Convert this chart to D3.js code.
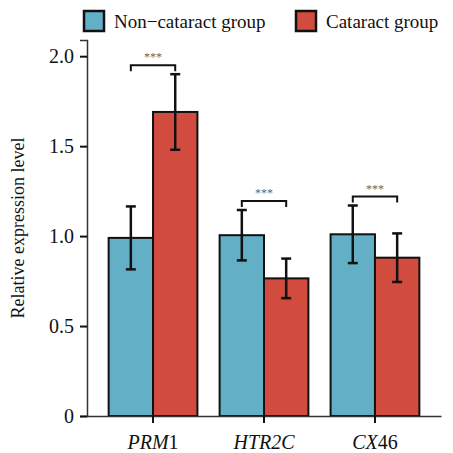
<!DOCTYPE html>
<html>
<head>
<meta charset="utf-8">
<script src="https://cdn.jsdelivr.net/npm/d3@7"></script>
<style>
  body { margin: 0; background: #fff; }
  #fig text, #fig tspan { font-family: "Liberation Serif", serif !important; }
</style>
</head>
<body>
<svg id="fig" width="453" height="453"></svg>
<script>
// Data
const genes = ['PRM1', 'HTR2C', 'CX46'];
const groups = ['Non\u2212cataract group', 'Cataract group'];
const nonCataract = [0.99, 1.005, 1.01];
const nonCataractErr = [0.175, 0.14, 0.16];
const cataract = [1.69, 0.765, 0.88];
const cataractErr = [0.21, 0.11, 0.135];
const significance = ['***', '***', '***'];
const yTicks = [0, 0.5, 1.0, 1.5, 2.0];

// gene labels: italic part + upright part
const geneItalic = ['PRM', 'HTR2C', 'CX'];
const geneUpright = ['1', '', '46'];

const colors = ['#63AFC6', '#D14B3E'];
const FONT = 'Liberation Serif';

const width = 453, height = 453;
const margin = { top: 40, right: 12, bottom: 37, left: 87 };

const svg = d3.select('#fig');

const x = d3.scaleBand()
    .domain(genes)
    .range([margin.left, width - margin.right])
    .paddingInner(0.2)
    .paddingOuter(0.195);

const xSub = d3.scaleBand()
    .domain([0, 1])
    .range([0, x.bandwidth()]);

const y = d3.scaleLinear()
    .domain([0, 2.09])
    .range([height - margin.bottom, margin.top]);

// Build rows for bars
const rows = [];
genes.forEach((g, i) => {
    rows.push({ gene: g, grp: 0, value: nonCataract[i], err: nonCataractErr[i] });
    rows.push({ gene: g, grp: 1, value: cataract[i], err: cataractErr[i] });
});

// Bars
svg.append('g')
    .selectAll('rect')
    .data(rows)
    .enter()
    .append('rect')
    .attr('x', d => x(d.gene) + xSub(d.grp))
    .attr('y', d => y(d.value))
    .attr('width', xSub.bandwidth())
    .attr('height', d => y(0) - y(d.value))
    .attr('fill', d => colors[d.grp])
    .attr('stroke', '#111')
    .attr('stroke-width', 2);

// Error bars
const capW = 5;
const err = svg.append('g')
    .attr('stroke', '#111')
    .attr('stroke-width', 2.5);

rows.forEach(d => {
    const cx = x(d.gene) + xSub(d.grp) + xSub.bandwidth() / 2;
    const top = y(d.value + d.err), bot = y(d.value - d.err);
    err.append('line').attr('x1', cx).attr('x2', cx).attr('y1', top).attr('y2', bot);
    err.append('line').attr('x1', cx - capW).attr('x2', cx + capW).attr('y1', top).attr('y2', top);
    err.append('line').attr('x1', cx - capW).attr('x2', cx + capW).attr('y1', bot).attr('y2', bot);
});

// Significance brackets
const sig = svg.append('g');
genes.forEach((g, i) => {
    const x1 = x(g) + xSub(0) + xSub.bandwidth() / 2;
    const x2 = x(g) + xSub(1) + xSub.bandwidth() / 2;
    const maxTop = Math.max(nonCataract[i] + nonCataractErr[i], cataract[i] + cataractErr[i]);
    const by = y(maxTop) - 9;
    sig.append('path')
        .attr('d', `M${x1},${by + 6}V${by}H${x2}V${by + 6}`)
        .attr('fill', 'none')
        .attr('stroke', '#111')
        .attr('stroke-width', 2);
    sig.append('text')
        .attr('x', (x1 + x2) / 2)
        .attr('y', by - 4)
        .attr('text-anchor', 'middle')
        .attr('font-family', FONT)
        .attr('font-size', 12)
        .attr('fill', '#666')
        .text(significance[i]);
});

// Y axis
const yAxis = svg.append('g')
    .attr('transform', `translate(${margin.left},0)`)
    .call(d3.axisLeft(y)
        .tickValues(yTicks)
        .tickSize(7)
        .tickPadding(6)
        .tickFormat(d => d === 0 ? '0' : d3.format('.1f')(d)));
yAxis.attr('font-family', FONT);
yAxis.select('.domain').attr('stroke', '#333').attr('stroke-width', 1.5);
yAxis.selectAll('.tick line').attr('stroke', '#111').attr('stroke-width', 2);
yAxis.selectAll('.tick text')
    .attr('font-family', FONT)
    .attr('font-size', 20)
    .attr('fill', '#111');

// X axis
const xAxis = svg.append('g')
    .attr('transform', `translate(0,${height - margin.bottom})`)
    .call(d3.axisBottom(x).tickSize(7).tickPadding(8).tickSizeOuter(0));
xAxis.attr('font-family', FONT);
xAxis.select('.domain').attr('stroke', '#333').attr('stroke-width', 1.5);
xAxis.selectAll('.tick line').attr('stroke', '#111').attr('stroke-width', 2);
xAxis.selectAll('.tick text').each(function(d, i) {
    const t = d3.select(this)
        .text(null)
        .attr('font-family', FONT)
        .attr('font-size', 20)
        .attr('fill', '#111')
        .attr('dy', '0.9em');
    t.append('tspan').attr('font-style', 'italic').text(geneItalic[i]);
    if (geneUpright[i]) t.append('tspan').text(geneUpright[i]);
});

// Y label
svg.append('text')
    .attr('transform', `translate(24,${(y(0) + y(2.09)) / 2}) rotate(-90)`)
    .attr('text-anchor', 'middle')
    .attr('font-family', FONT)
    .attr('font-size', 18)
    .attr('fill', '#111')
    .text('Relative expression level');

// Legend
const legendX = [84, 296];
const legend = svg.append('g');
groups.forEach((name, i) => {
    legend.append('rect')
        .attr('x', legendX[i])
        .attr('y', 11)
        .attr('width', 20)
        .attr('height', 20)
        .attr('fill', colors[i])
        .attr('stroke', '#111')
        .attr('stroke-width', 2.5);
    legend.append('text')
        .attr('x', legendX[i] + 30)
        .attr('y', 28)
        .attr('font-family', FONT)
        .attr('font-size', 19)
        .attr('fill', '#111')
        .text(name);
});
</script>
</body>
</html>
